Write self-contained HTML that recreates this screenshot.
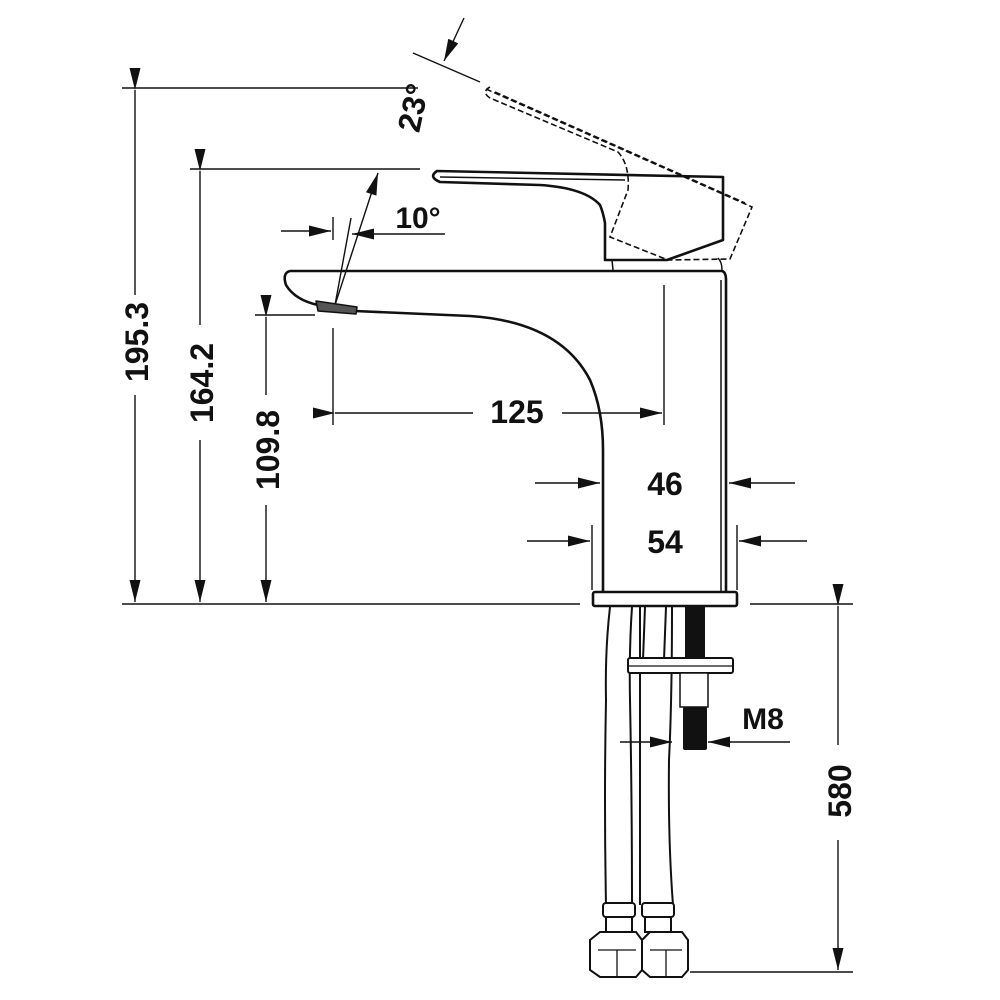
<!DOCTYPE html>
<html><head><style>html,body{margin:0;padding:0;background:#fff}svg{display:block}
text{font-family:"Liberation Sans",Arial,sans-serif;font-weight:bold;fill:#111}</style></head>
<body>
<svg width="1000" height="1000" viewBox="0 0 1000 1000" xmlns="http://www.w3.org/2000/svg">
<defs>
<marker id="b" viewBox="0 0 20 10" refX="20" refY="5" markerWidth="28" markerHeight="11" orient="auto" markerUnits="userSpaceOnUse"><path d="M0,0 L20,5 L0,10 z" fill="#111"/></marker>
</defs>
<g stroke="#111" stroke-width="1.4" fill="none">
<line x1="122" y1="604" x2="580" y2="604"/>
<line x1="750" y1="604" x2="853" y2="604"/>
<line x1="122" y1="88" x2="418" y2="88"/>
<line x1="190" y1="169" x2="420" y2="169"/>
<line x1="255" y1="315" x2="315" y2="315"/>
<line x1="690" y1="972" x2="853" y2="972"/>
<line x1="333" y1="217" x2="333" y2="240"/>
<line x1="333" y1="328" x2="333" y2="425"/>
<line x1="664" y1="285" x2="664" y2="425"/>
<line x1="592" y1="525" x2="592" y2="590"/>
<line x1="737" y1="525" x2="737" y2="590"/>
<line x1="135" y1="90" x2="135" y2="295" marker-start="url(#b)"/>
<line x1="135" y1="395" x2="135" y2="602" marker-end="url(#b)"/>
<line x1="200" y1="171" x2="200" y2="325" marker-start="url(#b)"/>
<line x1="200" y1="440" x2="200" y2="602" marker-end="url(#b)"/>
<line x1="266" y1="317" x2="266" y2="395" marker-start="url(#b)"/>
<line x1="266" y1="505" x2="266" y2="602" marker-end="url(#b)"/>
<line x1="838" y1="606" x2="838" y2="745" marker-start="url(#b)"/>
<line x1="838" y1="840" x2="838" y2="970" marker-end="url(#b)"/>
<line x1="335" y1="413" x2="473" y2="413" marker-start="url(#b)"/>
<line x1="562" y1="413" x2="662" y2="413" marker-end="url(#b)"/>
<line x1="535" y1="483" x2="600" y2="483" marker-end="url(#b)"/>
<line x1="795" y1="483" x2="729" y2="483" marker-end="url(#b)"/>
<line x1="527" y1="541" x2="590" y2="541" marker-end="url(#b)"/>
<line x1="807" y1="541" x2="739" y2="541" marker-end="url(#b)"/>
<line x1="620" y1="742" x2="672" y2="742" marker-end="url(#b)"/>
<line x1="790" y1="742" x2="708" y2="742" marker-end="url(#b)"/>
<line x1="281" y1="231" x2="331" y2="231" marker-end="url(#b)"/>
<line x1="445" y1="234" x2="352" y2="234" marker-end="url(#b)"/>
<line x1="335" y1="305" x2="378" y2="173" marker-end="url(#b)"/>
<line x1="335" y1="305" x2="351" y2="218"/>
<line x1="413" y1="53" x2="480" y2="82"/>
<line x1="464" y1="18" x2="444" y2="61" marker-end="url(#b)"/>
</g>
<g stroke="#111" stroke-width="2.6" fill="none" stroke-linejoin="round">
<path d="M290,271 L722,271 Q726,272 726,280 L726,592"/>
<line x1="721" y1="280" x2="721" y2="592" stroke-width="1.5"/>
<path d="M290,271 Q282,273 286,285 Q295,300 318,305"/>
<path d="M355,311 L470,316 Q560,322 590,380 Q603,410 603,450 L603,592"/>
<path d="M316,301 L357,307 L356,314 L318,311 Z" fill="#555" stroke-width="1.5"/>
<rect x="593" y="592" width="144" height="14" rx="2" fill="#fff"/>
<path d="M437,171 L723,177 L723,240 L667,260 L605,260 L605,223 Q603,212 600,205 Q585,188 540,185 L440,182 Q428,177 437,171 Z"/>
<path d="M612,260 L613,270 M718,258 Q722,262 722,270" stroke-width="1.5"/>
<line x1="440" y1="177" x2="625" y2="180" stroke-width="1.5"/>
</g>
<g stroke="#111" stroke-width="1.6" fill="none" stroke-dasharray="6,3">
<path d="M486,89 L752,207 L730,259 L668,260"/>
<path d="M490,87 Q481,92 490,98 L618,152 Q630,165 628,190 L610,237 L668,260"/>
<path d="M495,92 L745,203"/>
</g>
<g stroke="#111" stroke-width="2" fill="none">
<path d="M610,607 Q605,650 606,700 Q604,800 606,905"/>
<path d="M632,607 Q629,650 630,700 Q632,800 632,905"/>
<path d="M640,607 L640,905"/>
<path d="M672,607 Q672,700 669,760 Q668,840 673,905"/>
<path d="M645,607 L643,660 M666,607 L664,660"/>
<rect x="603" y="903" width="32" height="14" rx="3" fill="#fff"/>
<rect x="642" y="903" width="32" height="14" rx="3" fill="#fff"/>
<rect x="606" y="917" width="26" height="15" fill="#fff"/>
<rect x="645" y="917" width="26" height="15" fill="#fff"/>
<path d="M590,940 L600,932 L636,932 L642,940 L642,970 L636,977 L600,977 L590,970 Z" fill="#fff"/>
<path d="M642,940 L650,932 L682,932 L688,940 L688,970 L682,977 L650,977 L642,970 Z" fill="#fff"/>
<path d="M598,950 L636,950 M650,950 L682,950 M617,950 L617,977 M666,950 L666,977" stroke-width="1.3"/>
<rect x="628" y="658" width="105" height="15" rx="2" fill="#fff"/>
<line x1="628" y1="666" x2="733" y2="666" stroke-width="1.3"/>
<rect x="680" y="673" width="28" height="34" fill="#fff" stroke-width="1.5"/>
</g>
<rect x="685" y="607" width="20" height="51" fill="#111"/>
<rect x="683" y="707" width="24" height="43" rx="2" fill="#111"/>
<text x="517" y="423" font-size="32" text-anchor="middle">125</text>
<text x="665" y="495" font-size="32" text-anchor="middle">46</text>
<text x="665" y="553" font-size="32" text-anchor="middle">54</text>
<text x="763" y="729" font-size="30" text-anchor="middle">M8</text>
<text x="418" y="228" font-size="30" text-anchor="middle">10°</text>
<text transform="translate(148,342) rotate(-90)" font-size="32" text-anchor="middle">195.3</text>
<text transform="translate(213,383) rotate(-90)" font-size="32" text-anchor="middle">164.2</text>
<text transform="translate(279,450) rotate(-90)" font-size="32" text-anchor="middle">109.8</text>
<text transform="translate(851,791) rotate(-90)" font-size="32" text-anchor="middle">580</text>
<text transform="translate(424,110) rotate(-78)" font-size="32" text-anchor="middle">23°</text>
</svg>
</body></html>
